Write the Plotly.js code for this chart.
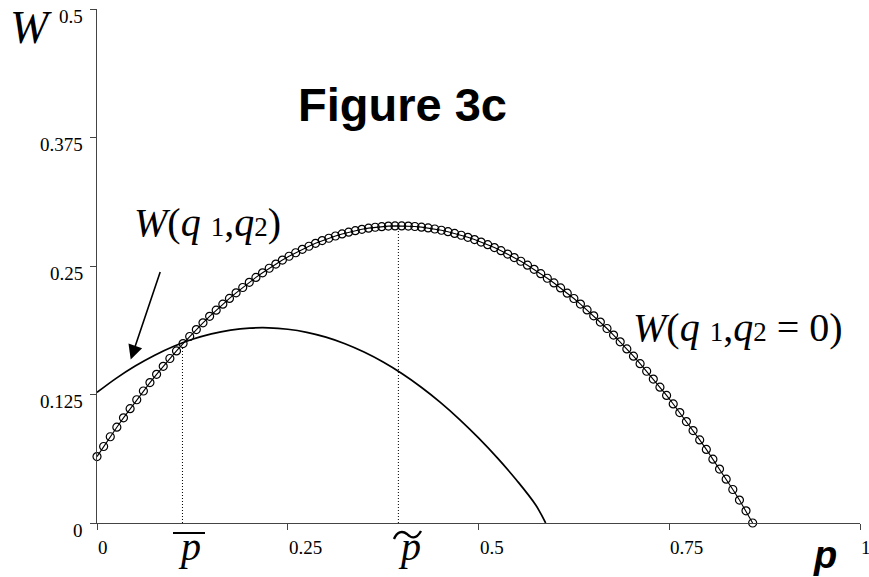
<!DOCTYPE html>
<html>
<head>
<meta charset="utf-8">
<script src="https://cdn.plot.ly/plotly-3.0.1.min.js"></script>
<style>
  html, body { margin: 0; padding: 0; background: #fff; }
  #chart { width: 869px; height: 577px; }
</style>
</head>
<body>
<div id="chart"></div>
<script>
// Welfare without the second instrument, W(q1, q2 = 0), sampled along p
const pCircle = [0, 0.0087, 0.0174, 0.026, 0.0347, 0.0434, 0.0521, 0.0608, 0.0694, 0.0781,
  0.0868, 0.0955, 0.1042, 0.1128, 0.1215, 0.1302, 0.1389, 0.1476, 0.1562, 0.1649,
  0.1736, 0.1823, 0.191, 0.1996, 0.2083, 0.217, 0.2257, 0.2344, 0.243, 0.2517,
  0.2604, 0.2691, 0.2778, 0.2864, 0.2951, 0.3038, 0.3125, 0.3212, 0.3298, 0.3385,
  0.3472, 0.3559, 0.3646, 0.3732, 0.3819, 0.3906, 0.3993, 0.408, 0.4166, 0.4253,
  0.434, 0.4427, 0.4514, 0.46, 0.4687, 0.4774, 0.4861, 0.4948, 0.5034, 0.5121,
  0.5208, 0.5295, 0.5382, 0.5468, 0.5555, 0.5642, 0.5729, 0.5816, 0.5902, 0.5989,
  0.6076, 0.6163, 0.625, 0.6336, 0.6423, 0.651, 0.6597, 0.6684, 0.677, 0.6857,
  0.6944, 0.7031, 0.7118, 0.7204, 0.7291, 0.7378, 0.7465, 0.7552, 0.7638, 0.7725,
  0.7812, 0.7899, 0.7986, 0.8072, 0.8159, 0.8246, 0.8333, 0.842, 0.8506, 0.8593];
const wCircle = [0.0646, 0.0744, 0.0839, 0.0932, 0.1023, 0.1112, 0.1199, 0.1284, 0.1366, 0.1446,
  0.1524, 0.16, 0.1674, 0.1745, 0.1814, 0.1882, 0.1947, 0.201, 0.207, 0.2129,
  0.2185, 0.2239, 0.2291, 0.2341, 0.2389, 0.2434, 0.2478, 0.2519, 0.2558, 0.2595,
  0.2629, 0.2662, 0.2692, 0.2721, 0.2747, 0.277, 0.2792, 0.2812, 0.2829, 0.2844,
  0.2857, 0.2868, 0.2877, 0.2883, 0.2888, 0.289, 0.289, 0.2888, 0.2884, 0.2878,
  0.287, 0.286, 0.2848, 0.2834, 0.2817, 0.2799, 0.2779, 0.2757, 0.2733, 0.2707,
  0.2679, 0.2649, 0.2616, 0.2582, 0.2546, 0.2508, 0.2468, 0.2425, 0.2381, 0.2335,
  0.2287, 0.2236, 0.2184, 0.213, 0.2073, 0.2015, 0.1955, 0.1892, 0.1828, 0.1762,
  0.1693, 0.1623, 0.155, 0.1476, 0.14, 0.1321, 0.1241, 0.1158, 0.1074, 0.0987,
  0.0899, 0.0808, 0.0716, 0.0621, 0.0525, 0.0426, 0.0326, 0.0223, 0.0118, 0];

// Welfare with both instruments, W(q1, q2)
const pSolid = [0, 0.025, 0.05, 0.075, 0.1, 0.125, 0.15, 0.175, 0.2, 0.225, 0.25, 0.275,
  0.3, 0.325, 0.35, 0.375, 0.4, 0.425, 0.45, 0.475, 0.5, 0.525, 0.55, 0.575, 0.588];
const wSolid = [0.127, 0.1407, 0.1527, 0.163, 0.1717, 0.1787, 0.184, 0.1876, 0.1896, 0.1899,
  0.1885, 0.1855, 0.1808, 0.1744, 0.1663, 0.1566, 0.1452, 0.1321, 0.1174, 0.1009,
  0.0828, 0.0631, 0.0416, 0.0175, 0];

// Threshold prices p-bar and p-tilde, with the welfare level each guide rises to
const guideP = [0.112, 0.395];
const guideW = [0.172, 0.289];

// Axis ticks
const xTicks = [0, 0.25, 0.5, 0.75, 1];
const xTickText = ['0', '0.25', '0.5', '0.75', '1'];
const yTicks = [0, 0.125, 0.25, 0.375, 0.5];
const yTickText = ['0', '0.125', '0.25', '0.375', '0.5'];

const W = 869, H = 577;
const M = { l: 97, r: 9, t: 9, b: 54 };
const plotW = W - M.l - M.r, plotH = H - M.t - M.b;
// page pixel -> paper coordinates
const px = x => (x - M.l) / plotW;
const py = y => (H - M.b - y) / plotH;

const serif = 'Liberation Serif, Times New Roman, serif';
const sans = 'Liberation Sans, Arial, sans-serif';
const axisColor = '#444';

const traces = [];
guideP.forEach((p, i) => {
  traces.push({
    x: [p, p], y: [0, guideW[i]], mode: 'lines', hoverinfo: 'skip',
    line: { color: '#000', width: 1, dash: '1px,2px' }
  });
});
traces.push({
  x: pSolid, y: wSolid, mode: 'lines', line: { color: '#000', width: 1.7, shape: 'spline' },
  cliponaxis: false
});
traces.push({
  x: pCircle, y: wCircle, mode: 'lines+markers', cliponaxis: false,
  line: { color: '#000', width: 1.1 },
  marker: { symbol: 'circle-open', size: 8, color: '#000', line: { width: 1.2, color: '#000' } }
});

const annotations = [];
xTicks.forEach((v, i) => annotations.push({
  xref: 'x', yref: 'paper', x: v, y: 0, xanchor: 'left', yanchor: 'middle',
  xshift: -1, yshift: -24.5, showarrow: false, text: xTickText[i],
  font: { family: serif, size: 19, color: '#000' }
}));
yTicks.forEach((v, i) => annotations.push({
  xref: 'paper', yref: 'y', x: 0, y: v, xanchor: 'right', yanchor: 'middle',
  xshift: -12, yshift: -7, showarrow: false, text: yTickText[i],
  font: { family: serif, size: 19, color: '#000' }
}));

function label(x, y, text, font) {
  annotations.push({ xref: 'paper', yref: 'paper', x: px(x), y: py(y),
    xanchor: 'center', yanchor: 'middle', showarrow: false, text: text, font: font });
}
const sub = d => '<span style="font-size:27px">' + d + '</span>';
label(30.5, 27.5, '<i>W</i>', { family: serif, size: 46, color: '#000' });
label(825, 555, '<b><i>p</i></b>', { family: sans, size: 38, color: '#000' });
label(402, 104, '<b>Figure 3c</b>', { family: sans, size: 47, color: '#000' });
label(189, 546.5, '<i>p</i>', { family: serif, size: 40, color: '#000' });
label(409, 546.5, '<i>p</i>', { family: serif, size: 40, color: '#000' });
label(207, 223, '<i>W</i>(<i>q</i> ' + sub(1) + ',<i>q</i>' + sub(2) + ')',
  { family: serif, size: 40, color: '#000' });
label(737.5, 327, '<i>W</i>(<i>q</i> ' + sub(1) + ',<i>q</i>' + sub(2) + ' = 0)',
  { family: serif, size: 40, color: '#000' });

// arrow from the W(q1,q2) label down to its curve
annotations.push({
  xref: 'paper', yref: 'paper', x: px(130.7), y: py(359.5), text: '',
  showarrow: true, arrowhead: 2, arrowsize: 1.8, arrowwidth: 1.6, arrowcolor: '#000',
  axref: 'pixel', ayref: 'pixel', ax: 30, ay: -89, standoff: 0
});

// overline on p-bar and tilde on p-tilde
const tildePts = [[394, 539], [397, 532], [402, 530], [407, 534], [411, 538], [416, 540], [421, 531]];
const tp = tildePts.map(([x, y]) => px(x).toFixed(5) + ',' + py(y).toFixed(5));
const tildePath = 'M' + tp[0] + ' C' + tp[1] + ' ' + tp[2] + ' ' + tp[3] + ' C' + tp[4] + ' ' + tp[5] + ' ' + tp[6];
const shapes = [
  { type: 'line', xref: 'paper', yref: 'paper', x0: px(173), x1: px(205), y0: py(533), y1: py(533),
    line: { color: '#000', width: 2 } },
  { type: 'path', xref: 'paper', yref: 'paper', path: tildePath,
    line: { color: '#000', width: 2.4 } }
];

const baseAxis = {
  showgrid: false, zeroline: false, showline: true, linecolor: axisColor, linewidth: 1,
  ticks: 'outside', ticklen: 6, tickwidth: 1, tickcolor: axisColor,
  showticklabels: false, fixedrange: true
};
const layout = {
  width: W, height: H, margin: M, showlegend: false,
  paper_bgcolor: '#fff', plot_bgcolor: '#fff',
  xaxis: Object.assign({}, baseAxis, { range: [0, 1], tickvals: xTicks }),
  yaxis: Object.assign({}, baseAxis, { range: [0, 0.5], tickvals: yTicks }),
  // companion axes carrying the inner half of each crossing tick
  xaxis2: Object.assign({}, baseAxis, { range: [0, 1], tickvals: xTicks, ticks: 'inside',
    overlaying: 'x', anchor: 'y', side: 'bottom', showline: false }),
  yaxis2: Object.assign({}, baseAxis, { range: [0, 0.5], tickvals: yTicks, ticks: 'inside',
    overlaying: 'y', anchor: 'x', side: 'left', showline: false }),
  annotations: annotations,
  shapes: shapes
};

Plotly.newPlot('chart', traces, layout, { staticPlot: true, displayModeBar: false });
</script>
</body>
</html>
